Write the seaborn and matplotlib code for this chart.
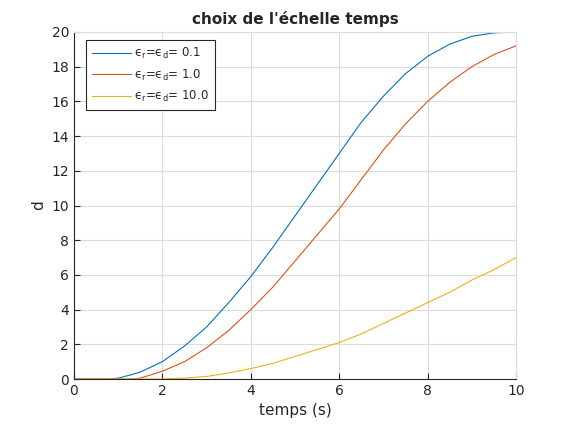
import numpy as np
import pandas as pd
import matplotlib
matplotlib.use("Agg")
import matplotlib.pyplot as plt
import seaborn as sns

t = [0, 0.5, 0.8, 1.0, 1.3, 1.5, 2.0, 2.5, 3.0, 3.5, 4.0, 4.5, 5.0, 5.5, 6.0, 6.5, 7.0, 7.5, 8.0, 8.5, 9.0, 9.5, 10.0]
d_01 = [0, 0, 0, 0.05, 0.25, 0.4, 1.0, 1.9, 3.0, 4.4, 5.9, 7.6, 9.4, 11.2, 13.0, 14.8, 16.3, 17.6, 18.6, 19.3, 19.75, 19.95, 20.0]
d_1 = [0, 0, 0, 0, 0, 0.05, 0.45, 1.0, 1.8, 2.8, 4.0, 5.3, 6.8, 8.3, 9.8, 11.5, 13.2, 14.7, 16.0, 17.1, 18.0, 18.7, 19.2]
d_10 = [0, 0, 0, 0, 0, 0, 0, 0.05, 0.15, 0.35, 0.6, 0.9, 1.3, 1.7, 2.1, 2.6, 3.2, 3.8, 4.4, 5.0, 5.7, 6.3, 7.0]
labels = [r'ϵ$_\mathregular{r}$=ϵ$_\mathregular{d}$= 0.1',
          r'ϵ$_\mathregular{r}$=ϵ$_\mathregular{d}$= 1.0',
          r'ϵ$_\mathregular{r}$=ϵ$_\mathregular{d}$= 10.0']
colors = ['#0072BD', '#D95319', '#EDB120']

sns.set_theme(style="white")
plt.rcParams['font.family'] = ['DejaVu Sans']
plt.rcParams['mathtext.fontset'] = 'dejavusans'

df = pd.concat([pd.DataFrame({'t': t, 'd': v, 'serie': lab})
                for v, lab in zip([d_01, d_1, d_10], labels)])

fig = plt.figure(figsize=(5.7, 4.26), dpi=100)
ax = fig.add_axes([0.1298, 0.1103, 0.7755, 0.8146])
sns.lineplot(data=df, x='t', y='d', hue='serie', palette=colors, ax=ax, linewidth=0.8)

ax.set_xlim(0, 10)
ax.set_ylim(0, 20)
ax.set_xticks(np.arange(0, 11, 2))
ax.set_yticks(np.arange(0, 21, 2))
ax.grid(True, color='#dcdcdc', linewidth=0.8)
ax.set_axisbelow(True)
for s in ['top', 'right']:
    ax.spines[s].set_color('#dcdcdc')
    ax.spines[s].set_linewidth(0.8)
for s in ['left', 'bottom']:
    ax.spines[s].set_color('#262626')
    ax.spines[s].set_linewidth(0.8)
ax.tick_params(direction='in', length=4, width=0.8, colors='#262626', labelsize=10,
               left=True, bottom=True, top=False, right=False)
ax.set_xlabel('temps (s)', fontsize=11, color='#262626')
ax.set_ylabel('d', fontsize=11, color='#262626')
ax.set_title("choix de l'échelle temps", fontsize=11, fontweight='bold', pad=6)

leg = ax.legend(loc='upper left', fontsize=8.5, frameon=True, fancybox=False,
                edgecolor='#262626', framealpha=1, handlelength=3.3, handletextpad=0.25,
                borderpad=0.5, bbox_to_anchor=(0.028, 0.977), borderaxespad=0, labelspacing=0.55)
leg.get_frame().set_linewidth(0.8)

fig.savefig('out.png', dpi=100)
